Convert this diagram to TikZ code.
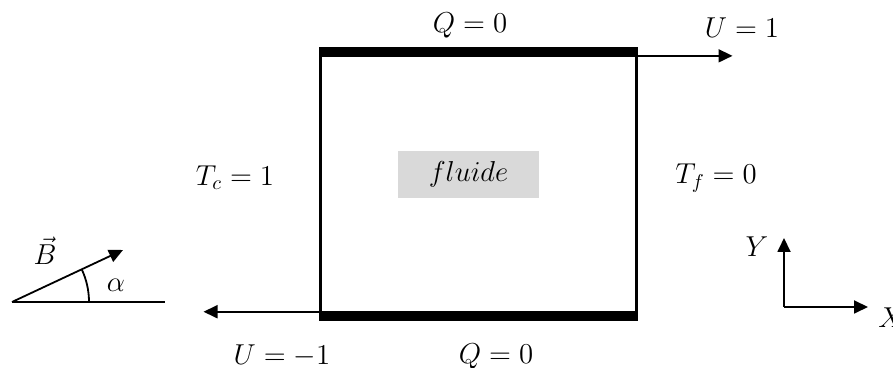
\documentclass[tikz,border=0pt]{standalone}
\usetikzlibrary{arrows.meta}
\begin{document}
\begin{tikzpicture}[x=0.5pt,y=0.5pt,
  lbl/.style={inner sep=0pt,font=\fontsize{14}{16}\selectfont},
  arr/.style={-{Triangle[length=7pt,width=6.5pt]},line width=0.9pt},
  wall/.style={line width=5pt},
  thin/.style={line width=0.9pt}]
\useasboundingbox (0,0) rectangle (893,368);
% cavity
\node[draw,line width=1.5pt,minimum width=316*0.5pt,minimum height=263.5*0.5pt,inner sep=0pt,outer sep=0pt] (box) at (478.5,184) {};
\draw[wall] ([xshift=-0.75pt]box.north west) -- ([xshift=0.75pt]box.north east);
\draw[wall] ([xshift=-0.75pt]box.south west) -- ([xshift=0.75pt]box.south east);
\node[fill=black!15,minimum width=70.5pt,minimum height=23.5pt,inner sep=0pt,font=\fontsize{14}{16}\selectfont] (fl) at (468.5,193.5) {$fluide$};
% labels
\node[lbl] (qt) at (470,343) {$Q=0$};
\node[lbl] (qb) at (496,12) {$Q=0$};
\node[lbl] (tc) at (235,190) {$T_c=1$};
\node[lbl] (tf) at (716,190) {$T_f=0$};
% moving walls
\coordinate (ne) at ([yshift=-1.8pt]box.north east);
\path (ne) ++(96,0) coordinate (ue);
\draw[arr] (ne) -- (ue);
\node[lbl] (u1) at (742,340) {$U=1$};
\coordinate (sw) at ([yshift=2pt]box.south west);
\path (sw) ++(-117,0) coordinate (uw);
\draw[arr] (sw) -- (uw);
\node[lbl] (um) at (282,12) {$U=-1$};
% magnetic field
\coordinate (bo) at (12,66);
\coordinate (bt) at (123,118);
\coordinate (bh) at (165,66);
\draw[thin] (bo) -- (bh);
\draw[arr] (bo) -- (bt);
\draw[thin] ([xshift=38.5pt]bo) arc[start angle=0,end angle=25,radius=38.5pt];
\node[lbl] (al) at (116,83) {$\alpha$};
\node[lbl] (bl) at (45,117) {$\vec{B}$};
% axes
\coordinate (o) at (784,61);
\coordinate (yt) at (784,130);
\coordinate (xt) at (868,61);
\draw[arr] (o) -- (yt);
\draw[arr] (o) -- (xt);
\node[lbl] (yl) at (757,121) {$Y$};
\node[lbl,anchor=west] (xl) at (878,50) {$X$};
\end{tikzpicture}
\end{document}
